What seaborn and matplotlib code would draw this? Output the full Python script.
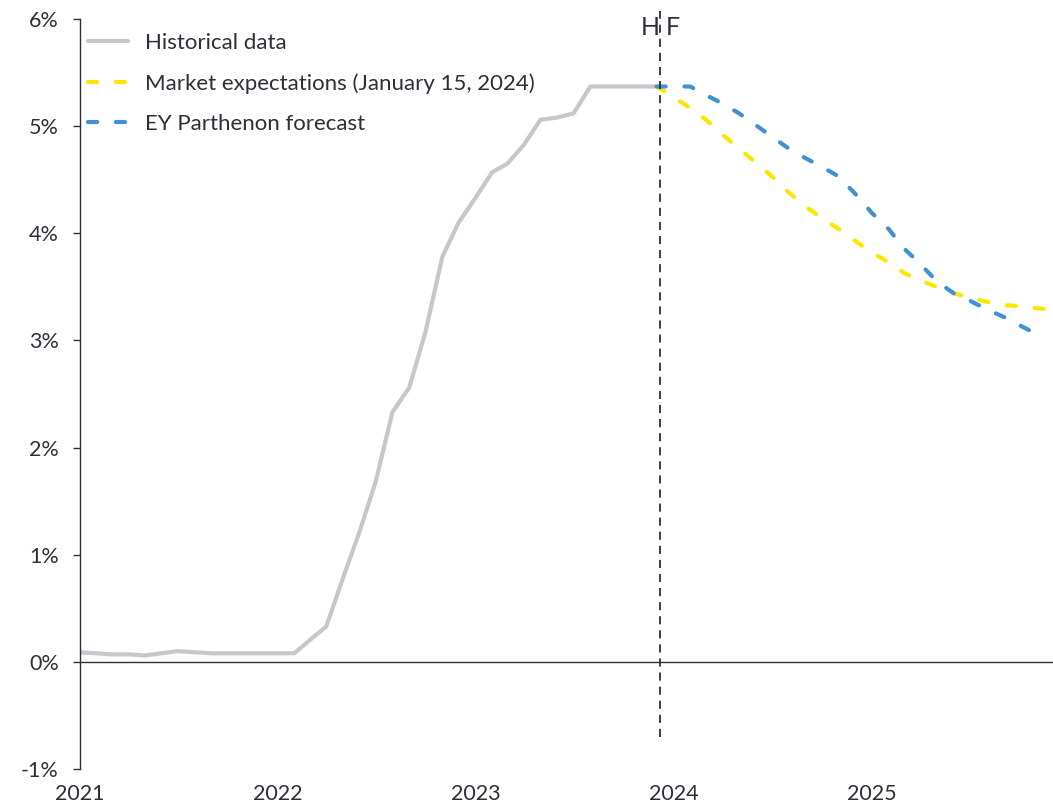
import pandas as pd
import matplotlib
import matplotlib.pyplot as plt
import seaborn as sns

matplotlib.use('Agg')

# monthly data
hist_months = pd.date_range('2021-01-01', '2023-12-01', freq='MS')
hist_rate = [0.09, 0.08, 0.07, 0.07, 0.06, 0.08, 0.10, 0.09, 0.08, 0.08, 0.08, 0.08,
             0.08, 0.08, 0.20, 0.33, 0.77, 1.21, 1.68, 2.33, 2.56, 3.08, 3.78, 4.10,
             4.33, 4.57, 4.65, 4.83, 5.06, 5.08, 5.12, 5.37, 5.37, 5.37, 5.37, 5.37]

market_months = pd.date_range('2023-12-01', '2025-12-01', freq='MS')
market_rate = [5.37,
               5.27, 5.17, 5.06, 4.92, 4.79, 4.66, 4.53, 4.38, 4.25, 4.14, 4.04, 3.93,
               3.82, 3.73, 3.63, 3.56, 3.50, 3.44, 3.40, 3.36, 3.33, 3.32, 3.30, 3.29]

ey_months = pd.date_range('2023-12-01', '2025-11-01', freq='MS')
ey_rate = [5.37,
           5.37, 5.37, 5.29, 5.21, 5.12, 5.01, 4.90, 4.79, 4.70, 4.62, 4.53, 4.37,
           4.19, 4.04, 3.86, 3.71, 3.55, 3.44, 3.37, 3.29, 3.22, 3.14, 3.06]

years = [2021, 2022, 2023, 2024, 2025]
split_date = pd.Timestamp('2023-12-08')

txt = '#2E2E38'
sns.set_theme(style='white')
plt.rcParams['font.family'] = ['Lato', 'DejaVu Sans']
plt.rcParams['text.color'] = txt
plt.rcParams['axes.labelcolor'] = txt
plt.rcParams['xtick.color'] = txt
plt.rcParams['ytick.color'] = txt

fig = plt.figure(figsize=(10.53, 8.05), dpi=100)
ax = fig.add_axes([0.0755, 0.0447, 0.9245, 0.9317])

dash = (0, (2.2, 4.5))
sns.lineplot(x=hist_months, y=hist_rate, ax=ax, color='#C6C6CD', lw=3,
             label='Historical data')
sns.lineplot(x=market_months, y=market_rate, ax=ax, color='#FFE600', lw=3,
             linestyle=dash, dash_capstyle='round',
             label='Market expectations (January 15, 2024)')
sns.lineplot(x=ey_months, y=ey_rate, ax=ax, color='#3F91D3', lw=3,
             linestyle=dash, dash_capstyle='round',
             label='EY Parthenon forecast')

# zero line and H/F split
ax.axhline(0, color=txt, lw=1)
ax.vlines(split_date, -0.7, 6.07, colors=txt, linestyles=(0, (4.5, 3.3)),
          lw=1.3, clip_on=False)
ax.annotate('H', xy=(split_date, 5.92), xytext=(-7.5, 0), textcoords='offset points',
            ha='center', va='center', fontsize=18)
ax.annotate('F', xy=(split_date, 5.92), xytext=(9, 0), textcoords='offset points',
            ha='center', va='center', fontsize=18)

ax.set_xlim(pd.Timestamp('2021-01-01'), pd.Timestamp('2025-12-01'))
ax.set_ylim(-1, 6)
ax.set_xticks([pd.Timestamp(f'{y}-01-01') for y in years])
ax.set_xticklabels([str(y) for y in years])
ax.set_yticks(range(-1, 7))
ax.set_yticklabels([f'{v}%' for v in range(-1, 7)])
ax.tick_params(axis='x', length=0, pad=10.5, labelsize=15.5)
ax.tick_params(axis='y', length=5, width=1, pad=10, labelsize=15.5, left=True)
ax.set_xlabel('')
ax.set_ylabel('')

sns.despine(ax=ax, bottom=True)
ax.spines['left'].set_color(txt)
ax.spines['left'].set_linewidth(1)

ax.legend(loc='upper left', bbox_to_anchor=(8.5 / 973.5, 1 - 14 / 750), frameon=False,
          fontsize=16, handlelength=1.8, handletextpad=0.77,
          labelspacing=0.9, borderpad=0, borderaxespad=0)

plt.savefig('out.png', dpi=100)
